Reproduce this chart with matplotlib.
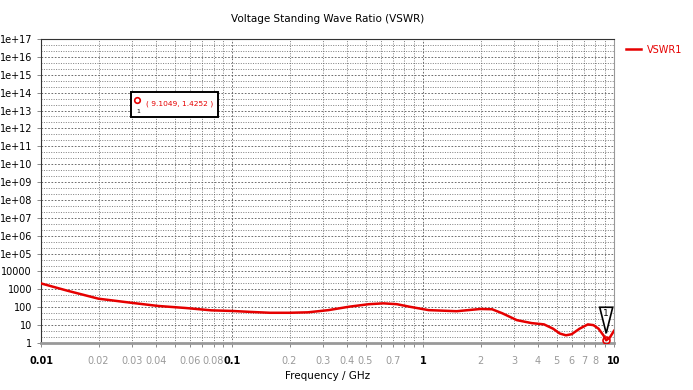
import numpy as np
import matplotlib
matplotlib.use("Agg")
import matplotlib.pyplot as plt
from matplotlib import transforms
from matplotlib.patches import Polygon, Rectangle
from matplotlib.ticker import FixedLocator, NullFormatter

# data
freq = [0.01, 0.0138, 0.02, 0.03, 0.041, 0.057, 0.078, 0.1, 0.124, 0.158, 0.2,
        0.25, 0.32, 0.41, 0.52, 0.62, 0.73, 0.85, 1.07, 1.5, 2.0, 2.3, 2.6,
        3.1, 3.7, 4.3, 4.8, 5.2, 5.6, 6.0, 6.6, 7.3, 7.8, 8.3, 8.8, 9.1049,
        9.5, 10]
vswr = [2150, 830, 300, 175, 118, 91, 67, 62, 55, 49, 49,
        52, 69, 107, 148, 165, 148, 107, 69, 60, 80, 77, 46,
        19, 13, 11, 6.3, 3.4, 2.7, 3.1, 6.3, 11, 10, 6.3, 2.7, 1.4252,
        2, 4.8]
marker_x = 9.1049
marker_y = 1.4252

ytick_vals = [10.0 ** k for k in range(18)]
ytick_labels = ["1", "10", "100", "1000", "10000"] + ["1e+%02d" % k for k in range(5, 18)]
xmajor = [0.01, 0.1, 1, 10]
xmajor_labels = ["0.01", "0.1", "1", "10"]
xminor_labeled = [0.02, 0.03, 0.04, 0.06, 0.08, 0.2, 0.3, 0.4, 0.5, 0.7,
                  2, 3, 4, 5, 6, 7, 8]

RED = "#e60000"
GRID = "#555555"

plt.rcParams["font.family"] = ["DejaVu Sans"]

fig = plt.figure(figsize=(6.93, 3.9), dpi=100)
ax = fig.add_axes([0.0592, 0.1205, 0.8268, 0.7795])

ax.set_xscale("log")
ax.set_yscale("log")
ax.set_xlim(0.01, 10)
ax.set_ylim(1, 1e17)

line, = ax.plot(freq, vswr, color=RED, lw=1.8, label="VSWR1", zorder=3)
ax.plot([marker_x], [marker_y], "o", mfc="none", mec=RED, ms=5, mew=1.2, zorder=4)

# y ticks
ax.yaxis.set_major_locator(FixedLocator(ytick_vals))
ax.set_yticklabels(ytick_labels, fontsize=7)
yminor = []
for k in range(17):
    yminor += [10 ** (k + 1 / 3), 10 ** (k + 2 / 3)]
ax.yaxis.set_minor_locator(FixedLocator(yminor))
ax.yaxis.set_minor_formatter(NullFormatter())

# x ticks
ax.xaxis.set_major_locator(FixedLocator(xmajor))
ax.set_xticklabels(xmajor_labels, fontsize=7, fontweight="bold")
xminor = []
for d in [0.01, 0.1, 1]:
    xminor += [d * m for m in range(2, 10)]
ax.xaxis.set_minor_locator(FixedLocator(xminor))
minor_lab = []
for v in xminor:
    match = [m for m in xminor_labeled if abs(m - v) < 1e-9]
    minor_lab.append(("%g" % v) if match else "")
ax.set_xticklabels(minor_lab, minor=True, fontsize=7, color="#9a9a9a")

ax.tick_params(axis="both", which="both", length=3, width=0.6, color="#777777")
ax.tick_params(axis="x", which="both", pad=6)
ax.tick_params(axis="y", which="minor", length=0)

ax.grid(True, which="major", color=GRID, lw=0.6, ls=(0, (2, 2)))
ax.grid(True, which="minor", color=GRID, lw=0.5, ls=(0, (1.5, 2)))

for s in ["top", "left"]:
    ax.spines[s].set_color("#333333")
    ax.spines[s].set_linewidth(0.8)
ax.spines["bottom"].set_color("#999999")
ax.spines["bottom"].set_linewidth(2)
ax.spines["right"].set_color("#999999")
ax.spines["right"].set_linewidth(0.8)

ax.set_title("Voltage Standing Wave Ratio (VSWR)", fontsize=7.5, pad=12)
ax.set_xlabel("Frequency / GHz", fontsize=7.5, labelpad=4)

# marker flag: inverted triangle with "1" above the marked point
tr = fig.dpi_scale_trans + transforms.ScaledTranslation(marker_x, marker_y, ax.transData)
tri = Polygon([[-0.065, 0.33], [0.065, 0.33], [0.0, 0.07]], closed=True,
              facecolor="white", edgecolor="black", lw=1.2, transform=tr,
              clip_on=False, zorder=5)
ax.add_patch(tri)
ax.text(0, 0.27, "1", transform=tr, fontsize=6.5, ha="center", va="center", zorder=6)

# marker info box
box = Rectangle((0.157, 0.743), 0.152, 0.083, transform=ax.transAxes,
                facecolor="white", edgecolor="black", lw=1.4, zorder=6)
ax.add_patch(box)
ax.text(0.184, 0.786, "( %.4f, %.4f )" % (marker_x, marker_y), transform=ax.transAxes,
        fontsize=5.4, color=RED, va="center", ha="left", zorder=7)
ax.plot([0.168], [0.800], "o", mfc="none", mec=RED, ms=4, mew=1.2,
        transform=ax.transAxes, zorder=7)
ax.text(0.170, 0.762, "1", transform=ax.transAxes, fontsize=4.5, ha="center",
        va="center", zorder=7)

leg = ax.legend(loc="upper left", bbox_to_anchor=(1.01, 1.0), frameon=False,
                fontsize=7, handlelength=1.6, handletextpad=0.6, borderaxespad=0.2)
for t in leg.get_texts():
    t.set_color(RED)

fig.savefig("out.png", dpi=100)
